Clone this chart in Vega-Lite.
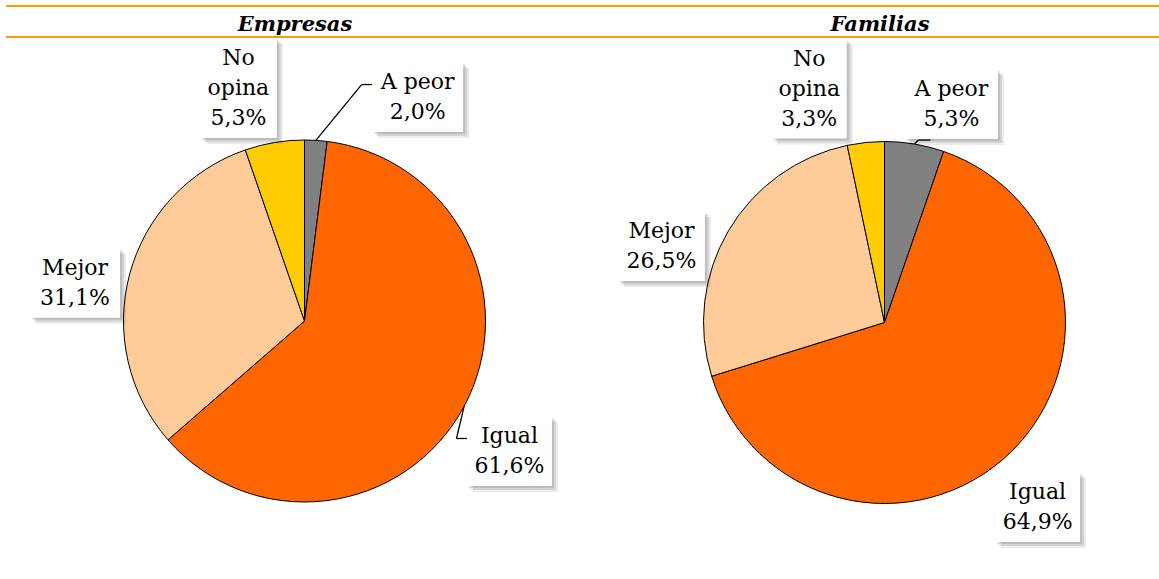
{
  "$schema": "https://vega.github.io/schema/vega-lite/v6.json",
  "background": "white",
  "autosize": {"type": "pad"},
  "padding": {"left": 0, "top": 4, "right": 0, "bottom": 0},
  "spacing": 0,
  "bounds": "flush",
  "config": {
    "view": {"stroke": null},
    "font": "DejaVu Serif",
    "title": {"font": "DejaVu Serif", "fontSize": 21, "fontStyle": "italic", "fontWeight": "bold", "color": "#000000", "anchor": "middle", "baseline": "alphabetic", "offset": -30}
  },
  "datasets": {
    "encuesta": [
      {"panel": "Empresas", "cat": "A peor", "value": 2.0},
      {"panel": "Empresas", "cat": "Igual", "value": 61.6},
      {"panel": "Empresas", "cat": "Mejor", "value": 31.1},
      {"panel": "Empresas", "cat": "No opina", "value": 5.3},
      {"panel": "Familias", "cat": "A peor", "value": 5.3},
      {"panel": "Familias", "cat": "Igual", "value": 64.9},
      {"panel": "Familias", "cat": "Mejor", "value": 26.5},
      {"panel": "Familias", "cat": "No opina", "value": 3.3}
    ]
  },
  "hconcat": [
    {
      "width": 608,
      "height": 541,
      "title": {"text": "Empresas", "dx": -9},
      "data": {"name": "encuesta"},
      "transform": [
        {"filter": "datum.panel == 'Empresas'"},
        {"joinaggregate": [{"op": "sum", "field": "value", "as": "total"}]},
        {"window": [{"op": "sum", "field": "value", "as": "cum"}], "sort": [{"field": "cat", "order": "ascending"}], "frame": [null, 0]},
        {"calculate": "2*PI*(datum.cum - datum.value/2)/datum.total", "as": "mid"},
        {"calculate": "datum.mid + PI/180*(datum.cat=='A peor' ? 23.2 : datum.cat=='Igual' ? 4.3 : datum.cat=='Mejor' ? -5.5 : -6.3)", "as": "la"},
        {"calculate": "datum.cat=='A peor' ? 250.9 : datum.cat=='Igual' ? 242.7 : datum.cat=='Mejor' ? 232.6 : 242.2", "as": "lr"},
        {"calculate": "datum.lr*sin(datum.la)", "as": "lx"},
        {"calculate": "datum.lr*cos(datum.la)", "as": "ly"},
        {"calculate": "datum.ly + (datum.cat=='No opina' ? 30 : 15)", "as": "ty"},
        {"calculate": "datum.cat=='A peor' ? 91 : datum.cat=='Igual' ? 85 : datum.cat=='Mejor' ? 90 : 77", "as": "bw"},
        {"calculate": "datum.cat=='No opina' ? 100 : 70", "as": "bh"},
        {"calculate": "datum.lx - datum.bw/2", "as": "bx1"},
        {"calculate": "datum.lx + datum.bw/2", "as": "bx2"},
        {"calculate": "datum.ly - datum.bh/2", "as": "by1"},
        {"calculate": "datum.ly + datum.bh/2", "as": "by2"},
        {"calculate": "181*sin(datum.mid)", "as": "sx"},
        {"calculate": "181*cos(datum.mid)", "as": "sy"},
        {"calculate": "datum.bx1 - 10.5", "as": "kx"},
        {"calculate": "datum.ly + 12.5", "as": "ky"},
        {"calculate": "(datum.cat=='No opina' ? 'No\\nopina' : datum.cat) + '\\n' + replace(format(datum.value, '.1f'), '.', ',') + '%'", "as": "etiqueta"}
      ],
      "layer": [
        {
          "data": {"values": [{"linea": "superior"}]},
          "mark": {"type": "rule", "stroke": "#FF9900", "strokeWidth": 2.2},
          "encoding": {"x": {"value": 6}, "x2": {"value": "width"}, "y": {"value": -33}}
        },
        {
          "data": {"values": [{"linea": "inferior"}]},
          "mark": {"type": "rule", "stroke": "#FF9900", "strokeWidth": 2.2},
          "encoding": {"x": {"value": 6}, "x2": {"value": "width"}, "y": {"value": -2}}
        },
        {
          "mark": {"type": "arc", "outerRadius": 181, "stroke": "#000000", "strokeWidth": 1},
          "encoding": {
            "theta": {"field": "value", "type": "quantitative", "stack": true},
            "order": {"field": "cat", "type": "ordinal", "sort": "ascending"},
            "color": {"field": "cat", "type": "nominal", "scale": {"domain": ["A peor", "Igual", "Mejor", "No opina"], "range": ["#808080", "#FF6600", "#FFCC99", "#FFCC00"]}, "legend": null},
            "x": {"datum": 0, "type": "quantitative", "scale": {"domain": [-304.5, 303.5], "nice": false, "zero": false}, "axis": null},
            "y": {"datum": 0, "type": "quantitative", "scale": {"domain": [-259, 282], "nice": false, "zero": false}, "axis": null}
          }
        },
        {
          "transform": [{"filter": "datum.cat=='A peor' || datum.cat=='Igual'"}],
          "mark": {"type": "rule", "stroke": "#000000", "strokeWidth": 1.3},
          "encoding": {
            "x": {"field": "sx", "type": "quantitative", "scale": {"domain": [-304.5, 303.5], "nice": false, "zero": false}, "axis": null},
            "y": {"field": "sy", "type": "quantitative", "scale": {"domain": [-259, 282], "nice": false, "zero": false}, "axis": null},
            "x2": {"field": "kx"},
            "y2": {"field": "ky"}
          }
        },
        {
          "transform": [{"filter": "datum.cat=='A peor' || datum.cat=='Igual'"}],
          "mark": {"type": "rule", "stroke": "#000000", "strokeWidth": 1.3},
          "encoding": {
            "x": {"field": "kx", "type": "quantitative", "scale": {"domain": [-304.5, 303.5], "nice": false, "zero": false}, "axis": null},
            "y": {"field": "ky", "type": "quantitative", "scale": {"domain": [-259, 282], "nice": false, "zero": false}, "axis": null},
            "x2": {"field": "bx1"},
            "y2": {"field": "ky"}
          }
        },
        {
          "mark": {"type": "rect", "fill": "#000000", "opacity": 0.1, "xOffset": 2, "x2Offset": 2, "yOffset": 2, "y2Offset": 2},
          "encoding": {
            "x": {"field": "bx1", "type": "quantitative", "scale": {"domain": [-304.5, 303.5], "nice": false, "zero": false}, "axis": null},
            "x2": {"field": "bx2"},
            "y": {"field": "by1", "type": "quantitative", "scale": {"domain": [-259, 282], "nice": false, "zero": false}, "axis": null},
            "y2": {"field": "by2"}
          }
        },
        {
          "mark": {"type": "rect", "fill": "#000000", "opacity": 0.1, "xOffset": 4, "x2Offset": 4, "yOffset": 4, "y2Offset": 4},
          "encoding": {
            "x": {"field": "bx1", "type": "quantitative", "scale": {"domain": [-304.5, 303.5], "nice": false, "zero": false}, "axis": null},
            "x2": {"field": "bx2"},
            "y": {"field": "by1", "type": "quantitative", "scale": {"domain": [-259, 282], "nice": false, "zero": false}, "axis": null},
            "y2": {"field": "by2"}
          }
        },
        {
          "mark": {"type": "rect", "fill": "#000000", "opacity": 0.08, "xOffset": 6, "x2Offset": 6, "yOffset": 6, "y2Offset": 6},
          "encoding": {
            "x": {"field": "bx1", "type": "quantitative", "scale": {"domain": [-304.5, 303.5], "nice": false, "zero": false}, "axis": null},
            "x2": {"field": "bx2"},
            "y": {"field": "by1", "type": "quantitative", "scale": {"domain": [-259, 282], "nice": false, "zero": false}, "axis": null},
            "y2": {"field": "by2"}
          }
        },
        {
          "mark": {"type": "rect", "fill": "#FFFFFF"},
          "encoding": {
            "x": {"field": "bx1", "type": "quantitative", "scale": {"domain": [-304.5, 303.5], "nice": false, "zero": false}, "axis": null},
            "x2": {"field": "bx2"},
            "y": {"field": "by1", "type": "quantitative", "scale": {"domain": [-259, 282], "nice": false, "zero": false}, "axis": null},
            "y2": {"field": "by2"}
          }
        },
        {
          "mark": {"type": "text", "font": "DejaVu Serif", "fontSize": 22, "lineHeight": 30, "lineBreak": "\n", "align": "center", "baseline": "middle", "color": "#000000"},
          "encoding": {
            "x": {"field": "lx", "type": "quantitative", "scale": {"domain": [-304.5, 303.5], "nice": false, "zero": false}, "axis": null},
            "y": {"field": "ty", "type": "quantitative", "scale": {"domain": [-259, 282], "nice": false, "zero": false}, "axis": null},
            "text": {"field": "etiqueta", "type": "nominal"}
          }
        }
      ]
    },
    {
      "width": 552,
      "height": 541,
      "title": {"text": "Familias", "dx": -4},
      "data": {"name": "encuesta"},
      "transform": [
        {"filter": "datum.panel == 'Familias'"},
        {"joinaggregate": [{"op": "sum", "field": "value", "as": "total"}]},
        {"window": [{"op": "sum", "field": "value", "as": "cum"}], "sort": [{"field": "cat", "order": "ascending"}], "frame": [null, 0]},
        {"calculate": "2*PI*(datum.cum - datum.value/2)/datum.total", "as": "mid"},
        {"calculate": "datum.mid + PI/180*(datum.cat=='A peor' ? 7.5 : datum.cat=='Igual' ? 4.4 : datum.cat=='Mejor' ? -11.5 : -11.9)", "as": "la"},
        {"calculate": "datum.cat=='A peor' ? 228.5 : datum.cat=='Igual' ? 239.7 : datum.cat=='Mejor' ? 235.8 : 245.7", "as": "lr"},
        {"calculate": "datum.lr*sin(datum.la)", "as": "lx"},
        {"calculate": "datum.lr*cos(datum.la)", "as": "ly"},
        {"calculate": "datum.ly + (datum.cat=='No opina' ? 30 : 15)", "as": "ty"},
        {"calculate": "datum.cat=='A peor' ? 93 : datum.cat=='Igual' ? 85 : datum.cat=='Mejor' ? 87 : 75", "as": "bw"},
        {"calculate": "datum.cat=='No opina' ? 100 : 70", "as": "bh"},
        {"calculate": "datum.lx - datum.bw/2", "as": "bx1"},
        {"calculate": "datum.lx + datum.bw/2", "as": "bx2"},
        {"calculate": "datum.ly - datum.bh/2", "as": "by1"},
        {"calculate": "datum.ly + datum.bh/2", "as": "by2"},
        {"calculate": "181*sin(datum.mid)", "as": "sx"},
        {"calculate": "181*cos(datum.mid)", "as": "sy"},
        {"calculate": "datum.sx + 4", "as": "kx"},
        {"calculate": "datum.by1 - 1", "as": "ky"},
        {"calculate": "datum.kx + 12", "as": "ex"},
        {"calculate": "(datum.cat=='No opina' ? 'No\\nopina' : datum.cat) + '\\n' + replace(format(datum.value, '.1f'), '.', ',') + '%'", "as": "etiqueta"}
      ],
      "layer": [
        {
          "data": {"values": [{"linea": "superior"}]},
          "mark": {"type": "rule", "stroke": "#FF9900", "strokeWidth": 2.2},
          "encoding": {"x": {"value": 0}, "x2": {"value": "width"}, "y": {"value": -33}}
        },
        {
          "data": {"values": [{"linea": "inferior"}]},
          "mark": {"type": "rule", "stroke": "#FF9900", "strokeWidth": 2.2},
          "encoding": {"x": {"value": 0}, "x2": {"value": "width"}, "y": {"value": -2}}
        },
        {
          "mark": {"type": "arc", "outerRadius": 181, "stroke": "#000000", "strokeWidth": 1},
          "encoding": {
            "theta": {"field": "value", "type": "quantitative", "stack": true},
            "order": {"field": "cat", "type": "ordinal", "sort": "ascending"},
            "color": {"field": "cat", "type": "nominal", "scale": {"domain": ["A peor", "Igual", "Mejor", "No opina"], "range": ["#808080", "#FF6600", "#FFCC99", "#FFCC00"]}, "legend": null},
            "x": {"datum": 0, "type": "quantitative", "scale": {"domain": [-276.5, 275.5], "nice": false, "zero": false}, "axis": null},
            "y": {"datum": 0, "type": "quantitative", "scale": {"domain": [-257.5, 283.5], "nice": false, "zero": false}, "axis": null}
          }
        },
        {
          "transform": [{"filter": "datum.cat=='A peor'"}],
          "mark": {"type": "rule", "stroke": "#000000", "strokeWidth": 1.3},
          "encoding": {
            "x": {"field": "sx", "type": "quantitative", "scale": {"domain": [-276.5, 275.5], "nice": false, "zero": false}, "axis": null},
            "y": {"field": "sy", "type": "quantitative", "scale": {"domain": [-257.5, 283.5], "nice": false, "zero": false}, "axis": null},
            "x2": {"field": "kx"},
            "y2": {"field": "ky"}
          }
        },
        {
          "transform": [{"filter": "datum.cat=='A peor'"}],
          "mark": {"type": "rule", "stroke": "#000000", "strokeWidth": 1.3},
          "encoding": {
            "x": {"field": "kx", "type": "quantitative", "scale": {"domain": [-276.5, 275.5], "nice": false, "zero": false}, "axis": null},
            "y": {"field": "ky", "type": "quantitative", "scale": {"domain": [-257.5, 283.5], "nice": false, "zero": false}, "axis": null},
            "x2": {"field": "ex"},
            "y2": {"field": "ky"}
          }
        },
        {
          "mark": {"type": "rect", "fill": "#000000", "opacity": 0.1, "xOffset": 2, "x2Offset": 2, "yOffset": 2, "y2Offset": 2},
          "encoding": {
            "x": {"field": "bx1", "type": "quantitative", "scale": {"domain": [-276.5, 275.5], "nice": false, "zero": false}, "axis": null},
            "x2": {"field": "bx2"},
            "y": {"field": "by1", "type": "quantitative", "scale": {"domain": [-257.5, 283.5], "nice": false, "zero": false}, "axis": null},
            "y2": {"field": "by2"}
          }
        },
        {
          "mark": {"type": "rect", "fill": "#000000", "opacity": 0.1, "xOffset": 4, "x2Offset": 4, "yOffset": 4, "y2Offset": 4},
          "encoding": {
            "x": {"field": "bx1", "type": "quantitative", "scale": {"domain": [-276.5, 275.5], "nice": false, "zero": false}, "axis": null},
            "x2": {"field": "bx2"},
            "y": {"field": "by1", "type": "quantitative", "scale": {"domain": [-257.5, 283.5], "nice": false, "zero": false}, "axis": null},
            "y2": {"field": "by2"}
          }
        },
        {
          "mark": {"type": "rect", "fill": "#000000", "opacity": 0.08, "xOffset": 6, "x2Offset": 6, "yOffset": 6, "y2Offset": 6},
          "encoding": {
            "x": {"field": "bx1", "type": "quantitative", "scale": {"domain": [-276.5, 275.5], "nice": false, "zero": false}, "axis": null},
            "x2": {"field": "bx2"},
            "y": {"field": "by1", "type": "quantitative", "scale": {"domain": [-257.5, 283.5], "nice": false, "zero": false}, "axis": null},
            "y2": {"field": "by2"}
          }
        },
        {
          "mark": {"type": "rect", "fill": "#FFFFFF"},
          "encoding": {
            "x": {"field": "bx1", "type": "quantitative", "scale": {"domain": [-276.5, 275.5], "nice": false, "zero": false}, "axis": null},
            "x2": {"field": "bx2"},
            "y": {"field": "by1", "type": "quantitative", "scale": {"domain": [-257.5, 283.5], "nice": false, "zero": false}, "axis": null},
            "y2": {"field": "by2"}
          }
        },
        {
          "mark": {"type": "text", "font": "DejaVu Serif", "fontSize": 22, "lineHeight": 30, "lineBreak": "\n", "align": "center", "baseline": "middle", "color": "#000000"},
          "encoding": {
            "x": {"field": "lx", "type": "quantitative", "scale": {"domain": [-276.5, 275.5], "nice": false, "zero": false}, "axis": null},
            "y": {"field": "ty", "type": "quantitative", "scale": {"domain": [-257.5, 283.5], "nice": false, "zero": false}, "axis": null},
            "text": {"field": "etiqueta", "type": "nominal"}
          }
        }
      ]
    }
  ]
}
